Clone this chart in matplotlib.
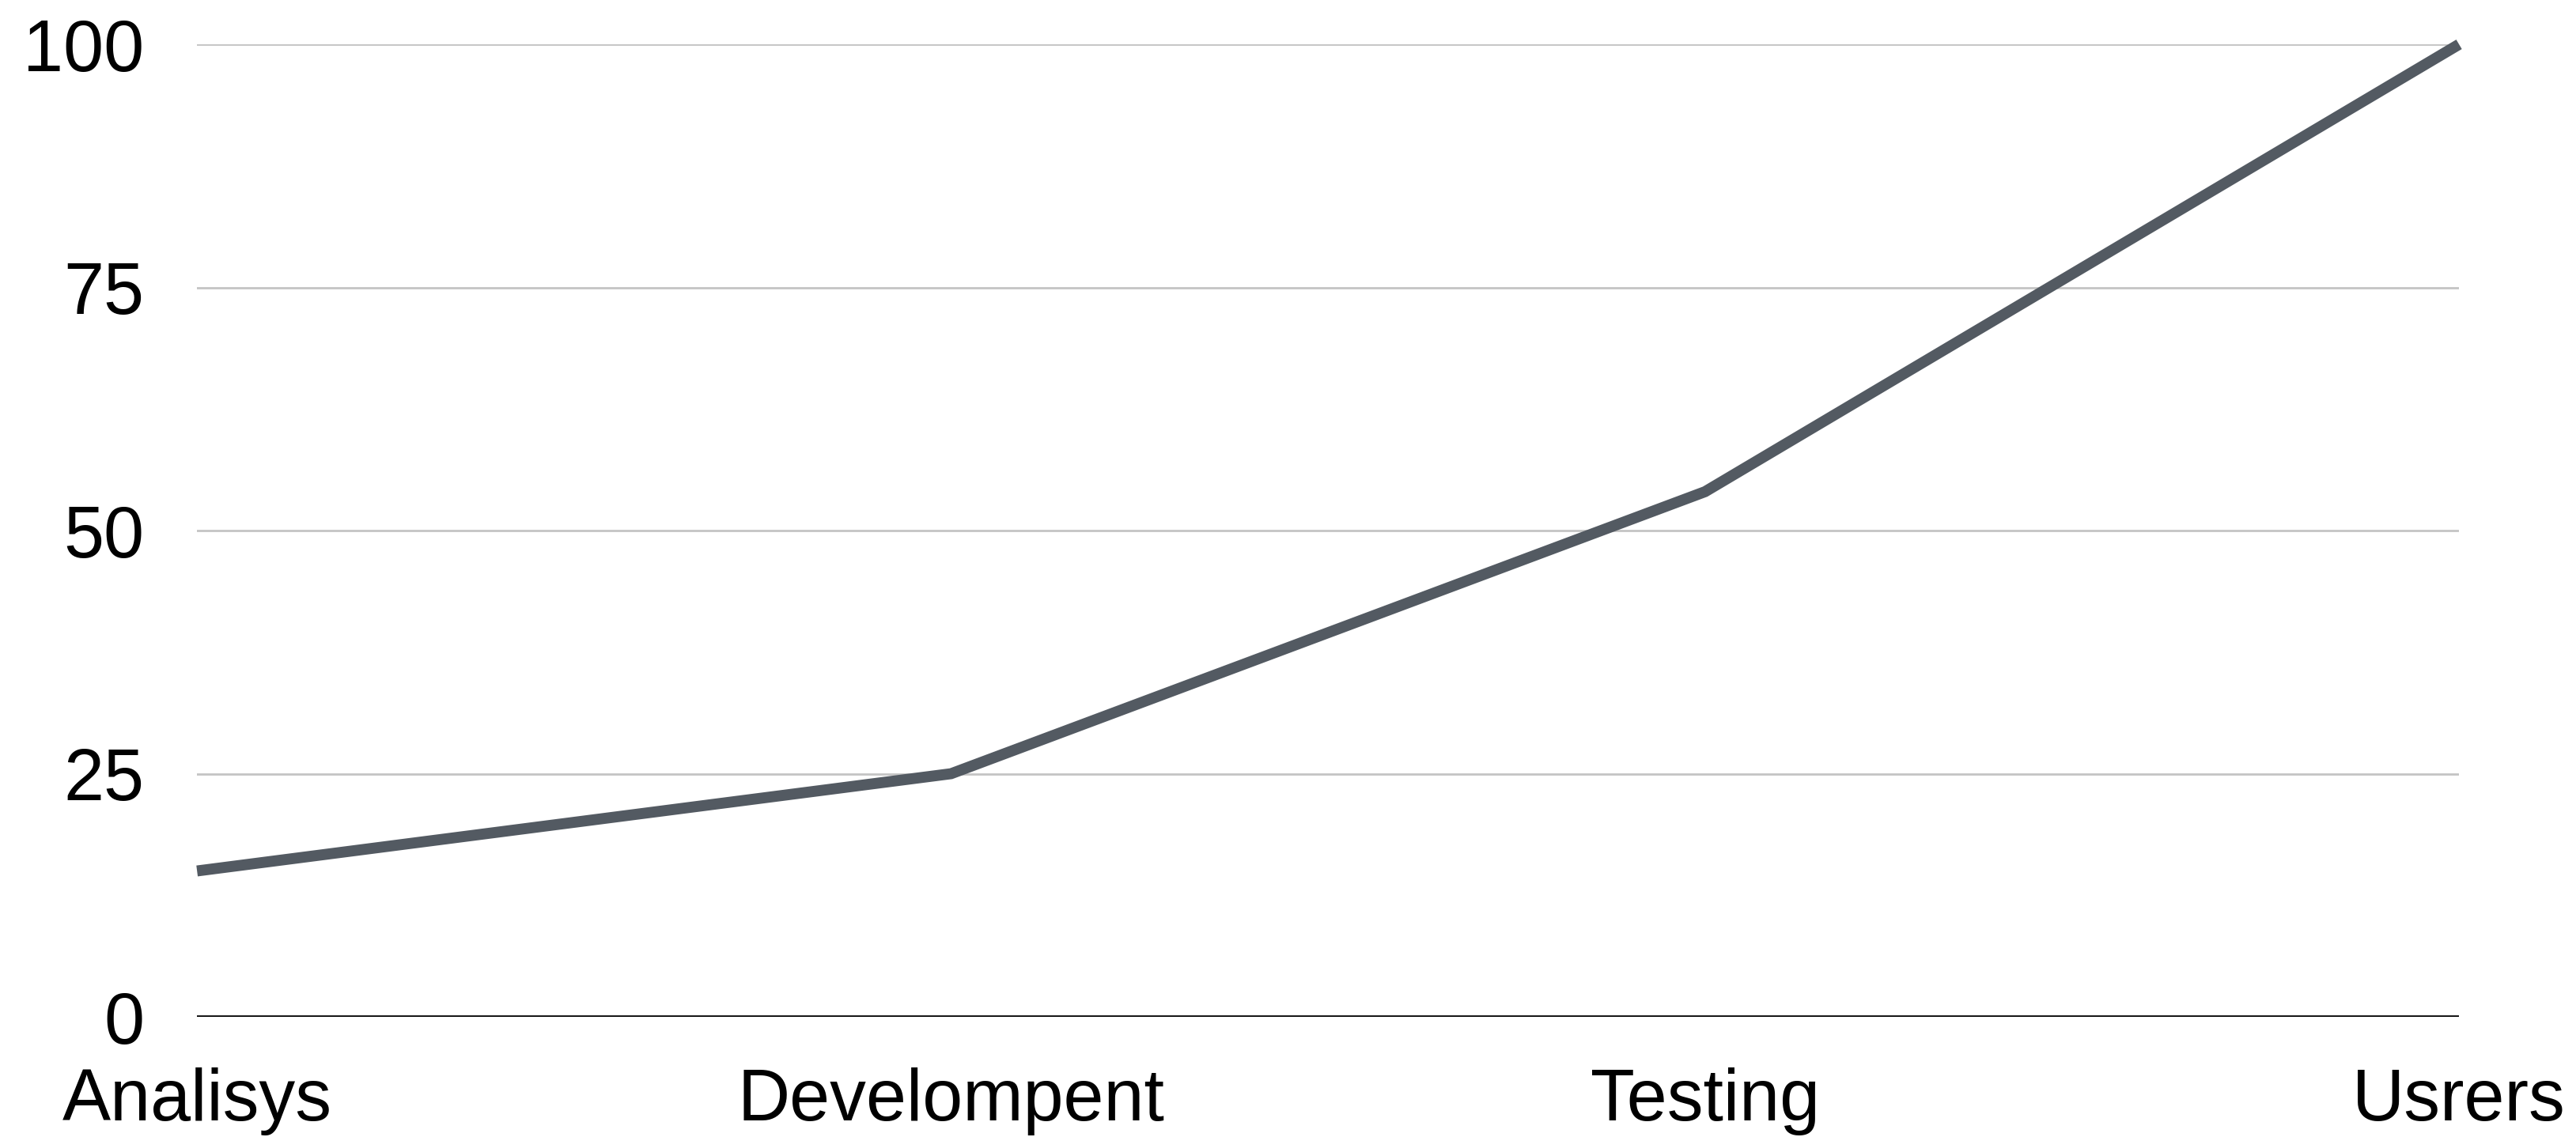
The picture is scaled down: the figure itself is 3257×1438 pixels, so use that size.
import matplotlib
matplotlib.use("Agg")
import matplotlib.pyplot as plt

categories = ["Analisys", "Develompent", "Testing", "Usrers"]
values = [15, 25, 54, 100]
yticks = [0, 25, 50, 75, 100]

plt.rcParams['font.family'] = ['Liberation Sans', 'DejaVu Sans']

fig = plt.figure(figsize=(32.57, 14.38), dpi=100)
ax = fig.add_axes([0.0765, 0.1057, 0.9546 - 0.0765, 0.961 - 0.1057])

x = list(range(len(categories)))
ax.set_xlim(0, len(categories) - 1)
ax.set_ylim(0, 100)

for t in yticks[1:]:
    ax.axhline(t, color="#c4c4c4", lw=2.0, zorder=1)
ax.axhline(0, color="black", lw=2.6, zorder=2)

ax.plot(x, values, color="#535a62", lw=10, solid_joinstyle="miter",
        solid_capstyle="butt", zorder=3, clip_on=False)

for s in ax.spines.values():
    s.set_visible(False)

ax.set_xticks(x)
ax.set_xticklabels(categories)
ax.set_yticks(yticks)
ax.set_yticklabels([str(t) for t in yticks])
ax.tick_params(axis="both", length=0, labelsize=66, colors="black")
ax.tick_params(axis="y", pad=48)
ax.tick_params(axis="x", pad=46)

fig.savefig("out.png", dpi=100, facecolor="white")
